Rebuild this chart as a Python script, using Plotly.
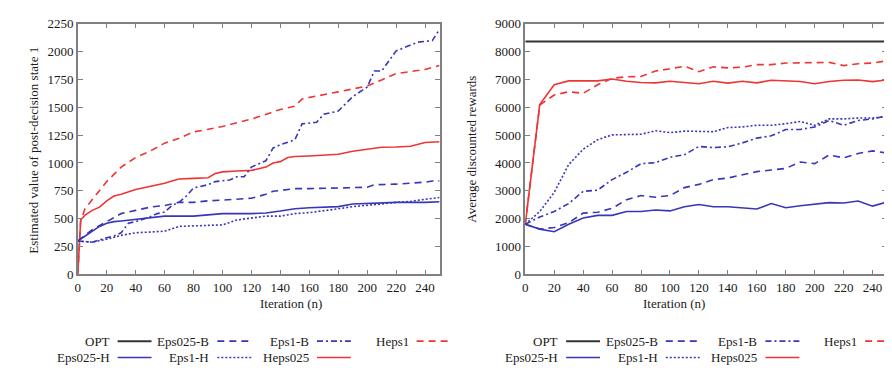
import plotly.graph_objects as go

W, H = 892, 368
RED = "#ee3535"
BLUE = "#3737b8"
BLACK = "#333333"
FONT = "Liberation Serif"

# ---------------- Left panel: estimated value of post-decision state 1 ----------------
L_heps1_x = [0, 2, 5, 10, 20, 30, 35, 40, 50, 60, 70, 80, 90, 100, 120, 140, 150, 155, 180, 200, 210, 220, 240, 250]
L_heps1_y = [0, 480, 590, 670, 833, 963, 1006, 1049, 1106, 1178, 1221, 1279, 1302, 1328, 1394, 1480, 1509, 1575, 1638, 1690, 1745, 1802, 1839, 1874]

L_heps025_x = [0, 2, 5, 10, 15, 20, 25, 30, 40, 50, 60, 65, 70, 80, 90, 95, 100, 110, 120, 125, 130, 135, 140, 145, 150, 160, 170, 180, 190, 200, 210, 220, 230, 240, 250]
L_heps025_y = [0, 489, 532, 575, 604, 661, 704, 719, 762, 790, 819, 839, 856, 862, 868, 905, 920, 928, 934, 948, 963, 1000, 1012, 1049, 1058, 1063, 1072, 1078, 1106, 1121, 1141, 1144, 1150, 1184, 1190]

L_eps025b_x = [0, 10, 20, 30, 40, 50, 60, 70, 80, 90, 100, 120, 130, 135, 140, 150, 160, 180, 200, 205, 220, 240, 245, 250]
L_eps025b_y = [300, 402, 474, 546, 575, 604, 618, 647, 647, 661, 667, 684, 719, 747, 753, 770, 770, 776, 782, 805, 810, 828, 839, 840]

L_eps025h_x = [0, 5, 10, 15, 20, 25, 30, 40, 50, 60, 80, 90, 100, 120, 130, 140, 150, 160, 180, 190, 200, 220, 240, 250]
L_eps025h_y = [300, 345, 388, 431, 460, 474, 480, 494, 512, 523, 523, 532, 546, 546, 552, 569, 589, 598, 609, 632, 638, 647, 647, 652]

L_eps1h_x = [0, 10, 20, 30, 40, 50, 60, 70, 80, 90, 100, 110, 120, 130, 140, 150, 160, 170, 180, 190, 200, 210, 220, 230, 240, 250]
L_eps1h_y = [300, 290, 316, 351, 374, 379, 388, 431, 437, 445, 445, 489, 503, 523, 523, 546, 555, 569, 589, 609, 618, 632, 647, 655, 675, 690]

L_eps1b_x = [0, 10, 20, 25, 30, 35, 40, 50, 55, 60, 65, 70, 75, 80, 90, 95, 105, 110, 115, 120, 130, 135, 140, 150, 155, 165, 170, 180, 190, 195, 200, 205, 210, 220, 235, 245, 250]
L_eps1b_y = [300, 290, 330, 345, 374, 460, 474, 517, 546, 560, 618, 647, 704, 776, 805, 833, 848, 877, 877, 963, 1020, 1135, 1164, 1207, 1351, 1365, 1437, 1466, 1595, 1638, 1681, 1825, 1825, 2006, 2084, 2098, 2199]

# ---------------- Right panel: average discounted rewards ----------------
R_x = [0, 10, 20, 30, 40, 50, 60, 70, 80, 90, 100, 110, 120, 130, 140, 150, 160, 170, 180, 190, 200, 210, 220, 230, 240, 250]
R_opt = [8360] * len(R_x)
R_heps025 = [1800, 6097, 6807, 6945, 6945, 6945, 7013, 6933, 6887, 6876, 6933, 6887, 6841, 6933, 6864, 6933, 6876, 6967, 6945, 6921, 6841, 6921, 6967, 6979, 6921, 6979]
R_heps1 = [1800, 6080, 6440, 6555, 6498, 6807, 7036, 7093, 7105, 7300, 7380, 7472, 7277, 7449, 7414, 7437, 7529, 7529, 7586, 7586, 7586, 7609, 7494, 7563, 7586, 7667]
R_eps1h = [1800, 2258, 2945, 3942, 4492, 4836, 5008, 5008, 5031, 5157, 5088, 5145, 5122, 5122, 5271, 5294, 5352, 5352, 5409, 5489, 5352, 5581, 5581, 5615, 5615, 5661]
R_eps1b = [1800, 2063, 2258, 2544, 2980, 3025, 3404, 3667, 3977, 4011, 4206, 4298, 4595, 4550, 4584, 4721, 4893, 4974, 5203, 5203, 5294, 5524, 5352, 5524, 5581, 5696]
R_eps025b = [1800, 1627, 1685, 1857, 2200, 2235, 2372, 2682, 2831, 2773, 2831, 3117, 3232, 3404, 3461, 3575, 3690, 3747, 3805, 4034, 3977, 4286, 4183, 4343, 4435, 4355]
R_eps025h = [1800, 1627, 1536, 1800, 2028, 2120, 2120, 2258, 2258, 2315, 2280, 2430, 2510, 2430, 2430, 2395, 2349, 2544, 2395, 2464, 2510, 2579, 2567, 2636, 2452, 2601]

x_ticks = list(range(0, 241, 20))
left_y_ticks = list(range(0, 2251, 250))
right_y_ticks = list(range(0, 9001, 1000))

legend_rows = [["OPT", "Eps025-B", "Eps1-B", "Heps1"],
               ["Eps025-H", "Eps1-H", "Heps025"]]

DASH = "7px,5px"
DASHDOT = "6px,3px,2px,3px"
DOT = "2px,2px"
style = {
    "OPT": (BLACK, "solid", 2),
    "Eps025-B": (BLUE, DASH, 1.6),
    "Eps1-B": (BLUE, DASHDOT, 1.6),
    "Heps1": (RED, DASH, 1.6),
    "Eps025-H": (BLUE, "solid", 1.6),
    "Eps1-H": (BLUE, DOT, 1.6),
    "Heps025": (RED, "solid", 1.6),
}

fig = go.Figure()

def add(name, x, y, xa, ya):
    c, d, w = style[name]
    fig.add_trace(go.Scatter(x=x, y=y, mode="lines", name=name, xaxis=xa, yaxis=ya,
                             line=dict(color=c, dash=d, width=w), showlegend=False))

add("Heps1", L_heps1_x, L_heps1_y, "x", "y")
add("Heps025", L_heps025_x, L_heps025_y, "x", "y")
add("Eps025-B", L_eps025b_x, L_eps025b_y, "x", "y")
add("Eps025-H", L_eps025h_x, L_eps025h_y, "x", "y")
add("Eps1-H", L_eps1h_x, L_eps1h_y, "x", "y")
add("Eps1-B", L_eps1b_x, L_eps1b_y, "x", "y")

add("OPT", R_x, R_opt, "x2", "y2")
add("Heps1", R_x, R_heps1, "x2", "y2")
add("Heps025", R_x, R_heps025, "x2", "y2")
add("Eps1-H", R_x, R_eps1h, "x2", "y2")
add("Eps1-B", R_x, R_eps1b, "x2", "y2")
add("Eps025-B", R_x, R_eps025b, "x2", "y2")
add("Eps025-H", R_x, R_eps025h, "x2", "y2")

def px(x):
    return x / W

def py(y):
    return 1 - y / H

TF = dict(family=FONT, size=13, color="#1a1a1a")
AX = dict(showline=True, linecolor="#808080", linewidth=1.5, mirror="ticks",
          ticks="inside", ticklen=5, tickcolor="#808080", tickwidth=1.2,
          showgrid=False, zeroline=False, tickfont=TF)

yd = [py(270.5), py(9)]
fig.update_layout(
    width=W, height=H, margin=dict(l=0, r=0, t=0, b=0),
    paper_bgcolor="white", plot_bgcolor="white",
    font=dict(family=FONT, size=13, color="#1a1a1a"),
    xaxis=dict(AX, domain=[px(67), px(430)], range=[0, 250], tickvals=x_ticks, anchor="y"),
    yaxis=dict(AX, domain=yd, range=[0, 2250], tickvals=left_y_ticks, anchor="x"),
    xaxis2=dict(AX, domain=[px(516), px(879)], range=[0, 250], tickvals=x_ticks, anchor="y2"),
    yaxis2=dict(AX, domain=yd, range=[0, 9000], tickvals=right_y_ticks, anchor="x2"),
)

ann = []
ann.append(dict(text="Estimated value of post-decision state 1", x=px(13), y=py(141), textangle=-90,
                xref="paper", yref="paper", showarrow=False, font=TF))
ann.append(dict(text="Average discounted rewards", x=px(462), y=py(140), textangle=-90,
                xref="paper", yref="paper", showarrow=False, font=TF))
for cx in (248, 698):
    ann.append(dict(text="Iteration (n)", x=px(cx), y=py(311), xref="paper", yref="paper",
                    showarrow=False, font=TF))

shapes = []
for offset in (0, 450):
    for r, row in enumerate(legend_rows):
        yy = 340 + r * 17
        for c, name in enumerate(row):
            right = 101 + offset + c * 100
            ann.append(dict(text=name, x=px(right), y=py(yy), xanchor="right", yanchor="middle",
                            xref="paper", yref="paper", showarrow=False, font=TF))
            col, d, w = style[name]
            shapes.append(dict(type="line", xref="paper", yref="paper",
                               x0=px(right + 6), x1=px(min(right + 40, 891)), y0=py(yy), y1=py(yy),
                               line=dict(color=col, dash=d, width=w)))

fig.update_layout(annotations=ann, shapes=shapes)
fig.write_html("out.html")
